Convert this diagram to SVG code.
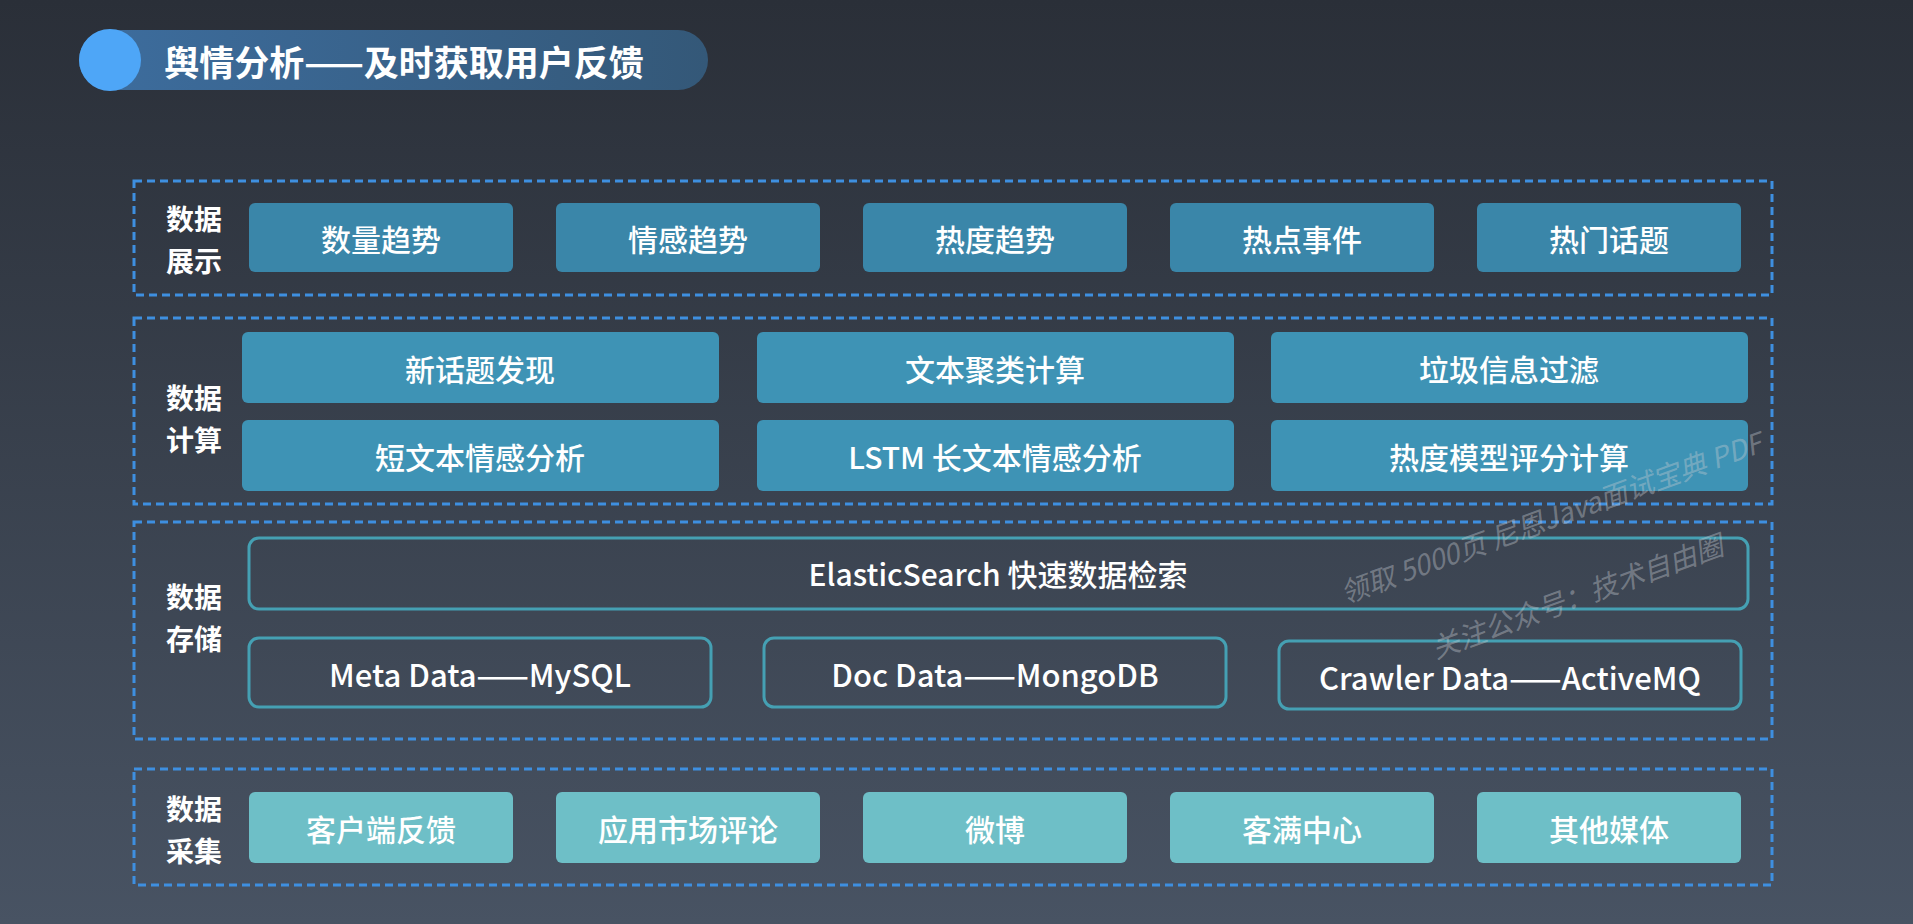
<svg xmlns="http://www.w3.org/2000/svg" width="1913" height="924" viewBox="0 0 1913 924">
<defs>
<linearGradient id="bg" x1="0" y1="0" x2="0" y2="1">
<stop offset="0" stop-color="#2a2f38"/>
<stop offset="1" stop-color="#485363"/>
</linearGradient>
<linearGradient id="pill" x1="0" y1="0" x2="1" y2="0">
<stop offset="0" stop-color="#3d6d9e"/>
<stop offset="1" stop-color="#345878"/>
</linearGradient>
<style>
text{font-family:"Noto Sans CJK SC","Noto Sans",sans-serif;fill:#ffffff;text-anchor:middle;dominant-baseline:central}
.frame{fill:none;stroke:#3e8fe0;stroke-width:3;stroke-dasharray:8 5}
.lbl{font-size:28px;font-weight:700}
.bt{font-size:30px;font-weight:500}
.lt{font-size:31px;font-weight:500}
.show{fill:#3a86a9}
.calc{fill:#3e93b5}
.coll{fill:#6ebfc7}
.store{fill:none;stroke:#45a0b3;stroke-width:3}
.wm{font-size:28px;fill:#c8ccd2;fill-opacity:0.4;text-anchor:start;dominant-baseline:alphabetic;font-style:italic}
</style>
</defs>
<rect x="0" y="0" width="1913" height="924" fill="url(#bg)"/>

<g id="title">
<rect x="79" y="30" width="629" height="60" rx="30" fill="url(#pill)"/>
<circle cx="110" cy="60" r="31" fill="#4ea6f7"/>
<text x="404" y="60" style="font-size:35px;font-weight:700">舆情分析——及时获取用户反馈</text>
</g>

<g id="layer-display">
<rect class="frame" x="134" y="181" width="1638" height="114"/>
<text class="lbl" x="194" y="218">数据</text>
<text class="lbl" x="194" y="260">展示</text>
<g id="d1"><rect class="show" x="249" y="203" width="264" height="69" rx="6"/><text class="bt" x="381" y="238">数量趋势</text></g>
<g id="d2"><rect class="show" x="556" y="203" width="264" height="69" rx="6"/><text class="bt" x="688" y="238">情感趋势</text></g>
<g id="d3"><rect class="show" x="863" y="203" width="264" height="69" rx="6"/><text class="bt" x="995" y="238">热度趋势</text></g>
<g id="d4"><rect class="show" x="1170" y="203" width="264" height="69" rx="6"/><text class="bt" x="1302" y="238">热点事件</text></g>
<g id="d5"><rect class="show" x="1477" y="203" width="264" height="69" rx="6"/><text class="bt" x="1609" y="238">热门话题</text></g>
</g>

<g id="layer-compute">
<rect class="frame" x="134" y="318" width="1638" height="186"/>
<text class="lbl" x="194" y="397">数据</text>
<text class="lbl" x="194" y="439">计算</text>
<g id="c1"><rect class="calc" x="242" y="332" width="477" height="71" rx="6"/><text class="bt" x="480" y="368">新话题发现</text></g>
<g id="c2"><rect class="calc" x="757" y="332" width="477" height="71" rx="6"/><text class="bt" x="995" y="368">文本聚类计算</text></g>
<g id="c3"><rect class="calc" x="1271" y="332" width="477" height="71" rx="6"/><text class="bt" x="1509" y="368">垃圾信息过滤</text></g>
<g id="c4"><rect class="calc" x="242" y="420" width="477" height="71" rx="6"/><text class="bt" x="480" y="456">短文本情感分析</text></g>
<g id="c5"><rect class="calc" x="757" y="420" width="477" height="71" rx="6"/><text class="bt" x="995" y="456">LSTM 长文本情感分析</text></g>
<g id="c6"><rect class="calc" x="1271" y="420" width="477" height="71" rx="6"/><text class="bt" x="1509" y="456">热度模型评分计算</text></g>
</g>

<g id="layer-storage">
<rect class="frame" x="134" y="522" width="1638" height="217"/>
<text class="lbl" x="194" y="596">数据</text>
<text class="lbl" x="194" y="638">存储</text>
<g id="s1"><rect class="store" x="249" y="538" width="1499" height="71" rx="10"/><text class="bt" x="998" y="573">ElasticSearch 快速数据检索</text></g>
<g id="s2"><rect class="store" x="249" y="638" width="462" height="69" rx="10"/><text class="lt" x="480" y="673">Meta Data——MySQL</text></g>
<g id="s3"><rect class="store" x="764" y="638" width="462" height="69" rx="10"/><text class="lt" x="995" y="673">Doc Data——MongoDB</text></g>
<g id="s4"><rect class="store" x="1279" y="641" width="462" height="68" rx="10"/><text class="lt" x="1510" y="676">Crawler Data——ActiveMQ</text></g>
</g>

<g id="layer-collect">
<rect class="frame" x="134" y="769" width="1638" height="116"/>
<text class="lbl" x="194" y="808">数据</text>
<text class="lbl" x="194" y="850">采集</text>
<g id="k1"><rect class="coll" x="249" y="792" width="264" height="71" rx="6"/><text class="bt" x="381" y="828">客户端反馈</text></g>
<g id="k2"><rect class="coll" x="556" y="792" width="264" height="71" rx="6"/><text class="bt" x="688" y="828">应用市场评论</text></g>
<g id="k3"><rect class="coll" x="863" y="792" width="264" height="71" rx="6"/><text class="bt" x="995" y="828">微博</text></g>
<g id="k4"><rect class="coll" x="1170" y="792" width="264" height="71" rx="6"/><text class="bt" x="1302" y="828">客满中心</text></g>
<g id="k5"><rect class="coll" x="1477" y="792" width="264" height="71" rx="6"/><text class="bt" x="1609" y="828">其他媒体</text></g>
</g>

<g id="connectors"></g>

<g id="watermark">
<text class="wm" transform="translate(1345 604) rotate(-20)">领取 5000页 尼恩Java面试宝典 PDF</text>
<text class="wm" transform="translate(1436 659) rotate(-20)">关注公众号：技术自由圈</text>
</g>
</svg>
